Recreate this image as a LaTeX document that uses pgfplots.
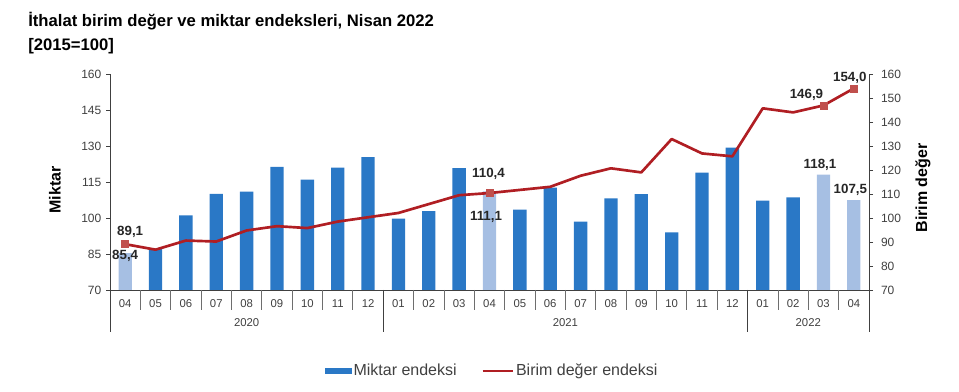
\documentclass[border=0pt]{standalone}
\usepackage{pgfplots}
\pgfplotsset{compat=1.18}
\usepackage{fontspec}
\setmainfont{Liberation Sans}
\definecolor{barblue}{HTML}{2A78C6}
\definecolor{barlight}{HTML}{A6BFE3}
\definecolor{linered}{HTML}{B01E23}
\definecolor{markred}{HTML}{C0504D}
\definecolor{axisgray}{HTML}{404040}
\definecolor{sepgray}{HTML}{6E6E6E}
\definecolor{txt}{HTML}{404040}
\tikzset{lbl/.style={font=\bfseries\fontsize{10}{12}\selectfont, text=black!85, anchor=center, inner sep=0pt}}
\begin{document}
\begin{tikzpicture}
\useasboundingbox (0,0) rectangle (719.25pt,294pt);
\node[anchor=base west, font=\bfseries\fontsize{12.5}{14}\selectfont, inner sep=0pt] at (21pt,274.1pt) {İthalat birim değer ve miktar endeksleri, Nisan 2022};
\node[anchor=base west, font=\bfseries\fontsize{12.5}{14}\selectfont, inner sep=0pt] at (21pt,256.3pt) {[2015=100]};
\node[rotate=90, font=\bfseries\fontsize{12}{14}\selectfont] at (41.25pt,151.5pt) {Miktar};
\node[rotate=90, font=\bfseries\fontsize{12}{14}\selectfont] at (692.25pt,153pt) {Birim değer};

\begin{axis}[
  name=main,
  at={(82.5pt,76.5pt)}, anchor=south west,
  scale only axis, width=569.25pt, height=162pt,
  xmin=-0.5, xmax=24.5, ymin=70, ymax=160,
  axis x line*=bottom, axis y line*=left,
  axis line style={axisgray, line width=0.6pt},
  xtick={0,...,24},
  xticklabels={04,05,06,07,08,09,10,11,12,01,02,03,04,05,06,07,08,09,10,11,12,01,02,03,04},
  xtick style={draw=none},
  x tick label style={font=\fontsize{8.5}{10}\selectfont, text=txt, anchor=center, yshift=-7pt},
  ytick={70,85,...,160},
  ytick style={axisgray, line width=0.6pt},
  tick align=outside, major tick length=3pt,
  y tick label style={font=\fontsize{9}{10}\selectfont, text=txt},
  /pgf/number format/assume math mode=true,
  clip mode=individual,
  legend style={at={(0.5035,-0.375)}, anchor=center, draw=none, fill=none,
    legend columns=2, font=\fontsize{12}{14}\selectfont, text=txt,
    /tikz/every even column/.append style={column sep=17pt},
    nodes={inner xsep=1.5pt}},
  legend cell align=left,
]
% Miktar endeksi (dark bars)
\addplot[ybar, bar width=10pt, bar shift=0pt, fill=barblue, draw=none,
  legend image code/.code={\fill[barblue] (0pt,-2.5pt) rectangle (20pt,2.5pt);}]
  coordinates {(1,87.0) (2,101.1) (3,110.1) (4,111.0) (5,121.3) (6,116.0) (7,121.0) (8,125.4)
  (9,99.7) (10,102.9) (11,120.8) (13,103.5) (14,112.7) (15,98.5) (16,108.2) (17,110.0)
  (18,94.0) (19,118.9) (20,129.3) (21,107.2) (22,108.6)};
\addlegendentry{Miktar endeksi}
% highlighted bars
\addplot[ybar, bar width=10pt, bar shift=0pt, fill=barlight, draw=none, forget plot]
  coordinates {(0,85.4) (12,111.1) (23,118.1) (24,107.5)};
% Birim deger endeksi
\addplot[linered, line width=2pt, mark=none, line join=round,
  legend image code/.code={\draw[linered, line width=2pt] (0pt,0pt) -- (22.5pt,0pt);}]
  coordinates {(0,89.1) (1,86.8) (2,90.6) (3,90.2) (4,94.8) (5,96.6) (6,95.8) (7,98.5)
  (8,100.3) (9,102.1) (10,105.8) (11,109.5) (12,110.4) (13,111.7) (14,113.0) (15,117.6)
  (16,120.7) (17,119.0) (18,132.9) (19,126.9) (20,125.7) (21,145.7) (22,144.0) (23,146.9) (24,154.0)};
\addlegendentry{Birim değer endeksi}
\addplot[only marks, mark=square*, mark size=2.6pt, mark options={fill=markred, draw=markred}, forget plot]
  coordinates {(0,89.1) (12,110.4) (23,146.9) (24,154.0)};
% data labels
\node[lbl, xshift=3.75pt, yshift=9.5pt] at (axis cs:0,89.1) {89,1};
\node[lbl, yshift=-2pt] at (axis cs:0,85.4) {85,4};
\node[lbl, xshift=-0.75pt, yshift=14.6pt] at (axis cs:12,110.4) {110,4};
\node[lbl, xshift=-2.6pt, yshift=-19.5pt] at (axis cs:12,111.1) {111,1};
\node[lbl, xshift=-12.75pt, yshift=8.25pt] at (axis cs:23,146.9) {146,9};
\node[lbl, xshift=-3pt, yshift=7.8pt] at (axis cs:24,154.0) {154,0};
\node[lbl, xshift=-2.6pt, yshift=7.5pt] at (axis cs:23,118.1) {118,1};
\node[lbl, xshift=-2.6pt, yshift=7.5pt] at (axis cs:24,107.5) {107,5};
% category separators
\pgfplotsinvokeforeach{0,...,25}{\draw[sepgray, line width=0.6pt] (axis cs:#1-0.5,70) -- ([yshift=-15pt]axis cs:#1-0.5,70);}
\pgfplotsinvokeforeach{-0.5,8.5,20.5,24.5}{\draw[axisgray, line width=0.6pt] (axis cs:#1,70) -- ([yshift=-31.5pt]axis cs:#1,70);}
\node[font=\fontsize{8.5}{10}\selectfont, text=txt] at ([yshift=-24.75pt]axis cs:4,70) {2020};
\node[font=\fontsize{8.5}{10}\selectfont, text=txt] at ([yshift=-24.75pt]axis cs:14.5,70) {2021};
\node[font=\fontsize{8.5}{10}\selectfont, text=txt] at ([yshift=-24.75pt]axis cs:22.5,70) {2022};
\end{axis}

\begin{axis}[
  at={(82.5pt,76.5pt)}, anchor=south west,
  scale only axis, width=569.25pt, height=162pt,
  xmin=-0.5, xmax=24.5, ymin=70, ymax=160,
  axis x line=none, axis y line*=right,
  axis line style={axisgray, line width=0.6pt},
  ytick={70,80,...,160},
  ytick style={axisgray, line width=0.6pt},
  tick align=outside, major tick length=3pt,
  y tick label style={font=\fontsize{9}{10}\selectfont, text=txt, xshift=2.5pt},
  /pgf/number format/assume math mode=true,
]
\end{axis}
\end{tikzpicture}
\end{document}
